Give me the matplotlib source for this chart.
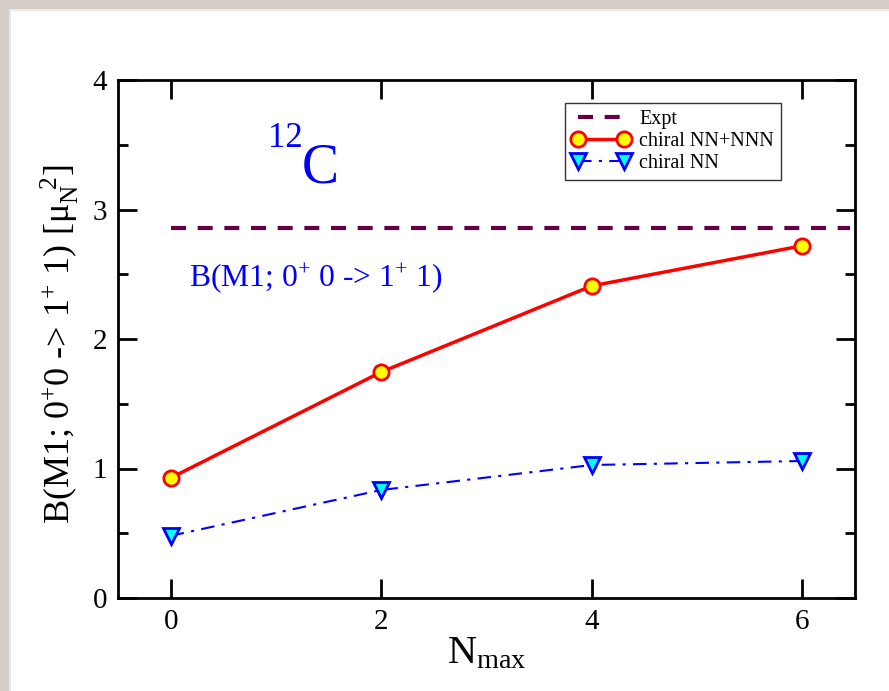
import matplotlib
matplotlib.use("Agg")
import matplotlib.pyplot as plt
from matplotlib.patches import Rectangle
from matplotlib.ticker import MultipleLocator

nmax = [0, 2, 4, 6]
nn_nnn = [0.927, 1.745, 2.41, 2.72]
nn = [0.48, 0.834, 1.027, 1.058]
expt = 2.857

plt.rcParams['font.family'] = ['Liberation Serif', 'DejaVu Serif']
plt.rcParams['mathtext.fontset'] = 'custom'
plt.rcParams['mathtext.rm'] = 'Liberation Serif'
plt.rcParams['mathtext.it'] = 'Liberation Serif'

fig = plt.figure(figsize=(8.89, 6.91), dpi=100)
fig.patch.set_facecolor('white')
# gray frame at top and left
fig.patches.append(Rectangle((0, 1 - 9/691), 1, 9/691, transform=fig.transFigure,
                             facecolor='#d3ccc7', edgecolor='none', zorder=-1))
fig.patches.append(Rectangle((0, 0), 9/889, 1, transform=fig.transFigure,
                             facecolor='#d3ccc7', edgecolor='none', zorder=-1))
fig.patches.append(Rectangle((9/889, 1 - 11/691), 1, 2/691, transform=fig.transFigure,
                             facecolor='#ece8e5', edgecolor='none', zorder=-1))
fig.patches.append(Rectangle((9/889, 0), 2/889, 1 - 9/691, transform=fig.transFigure,
                             facecolor='#ece8e5', edgecolor='none', zorder=-1))

ax = fig.add_axes([118/889, 1 - 598/691, (855 - 118)/889, (598 - 80)/691])
ax.set_xlim(-0.5, 6.5)
ax.set_ylim(0, 4)

ax.plot([0, 6.45], [expt, expt], color='#660044', lw=3, dashes=(3.6, 2.8), label='Expt')
ax.plot(nmax, nn_nnn, color='red', lw=2.5, marker='o', ms=11, mfc='yellow',
        mec='red', mew=2, label='chiral NN+NNN')
ax.plot(nmax, nn, color='blue', lw=1.5, dashes=(6.5, 3.5, 1.5, 3.5), marker='v', ms=12,
        mfc='cyan', mec='blue', mew=2, label='chiral NN')

ax.xaxis.set_major_locator(MultipleLocator(2))
ax.yaxis.set_major_locator(MultipleLocator(1))
ax.yaxis.set_minor_locator(MultipleLocator(0.5))
ax.tick_params(which='both', direction='in', top=True, right=True, width=2,
               labelsize=21, pad=8)
ax.tick_params(which='major', length=14)
ax.tick_params(which='minor', length=7)
for s in ax.spines.values():
    s.set_linewidth(2)

ax.set_xlabel(r'N$_{\mathregular{max}}$', fontsize=29, labelpad=0)
ax.set_ylabel(r'B(M1; 0$^{\mathregular{+}}$0 -> 1$^{\mathregular{+}}$ 1) [$\mu_N^{\ \ 2}$]',
              fontsize=26, labelpad=4)
ax.yaxis.set_label_coords(-0.05, 0.49)

ax.text(0.92, 3.48, '12', color='blue', fontsize=25)
ax.text(1.25, 3.21, 'C', color='blue', fontsize=40)
ax.text(0.17, 2.41, r'B(M1; 0$^{\mathregular{+}}$ 0 -> 1$^{\mathregular{+}}$ 1)',
        color='blue', fontsize=22.8)

leg = ax.legend(loc='upper right',
                bbox_to_anchor=((781 - 118)/(855 - 118), (598 - 103)/(598 - 80)),
                fontsize=14.5, numpoints=2, handlelength=2.9, frameon=True, fancybox=False,
                borderpad=0.35, labelspacing=0.15, handletextpad=0.45, borderaxespad=0)
leg.get_frame().set_edgecolor('black')
leg.get_frame().set_linewidth(1)

fig.savefig('out.png', dpi=100)
